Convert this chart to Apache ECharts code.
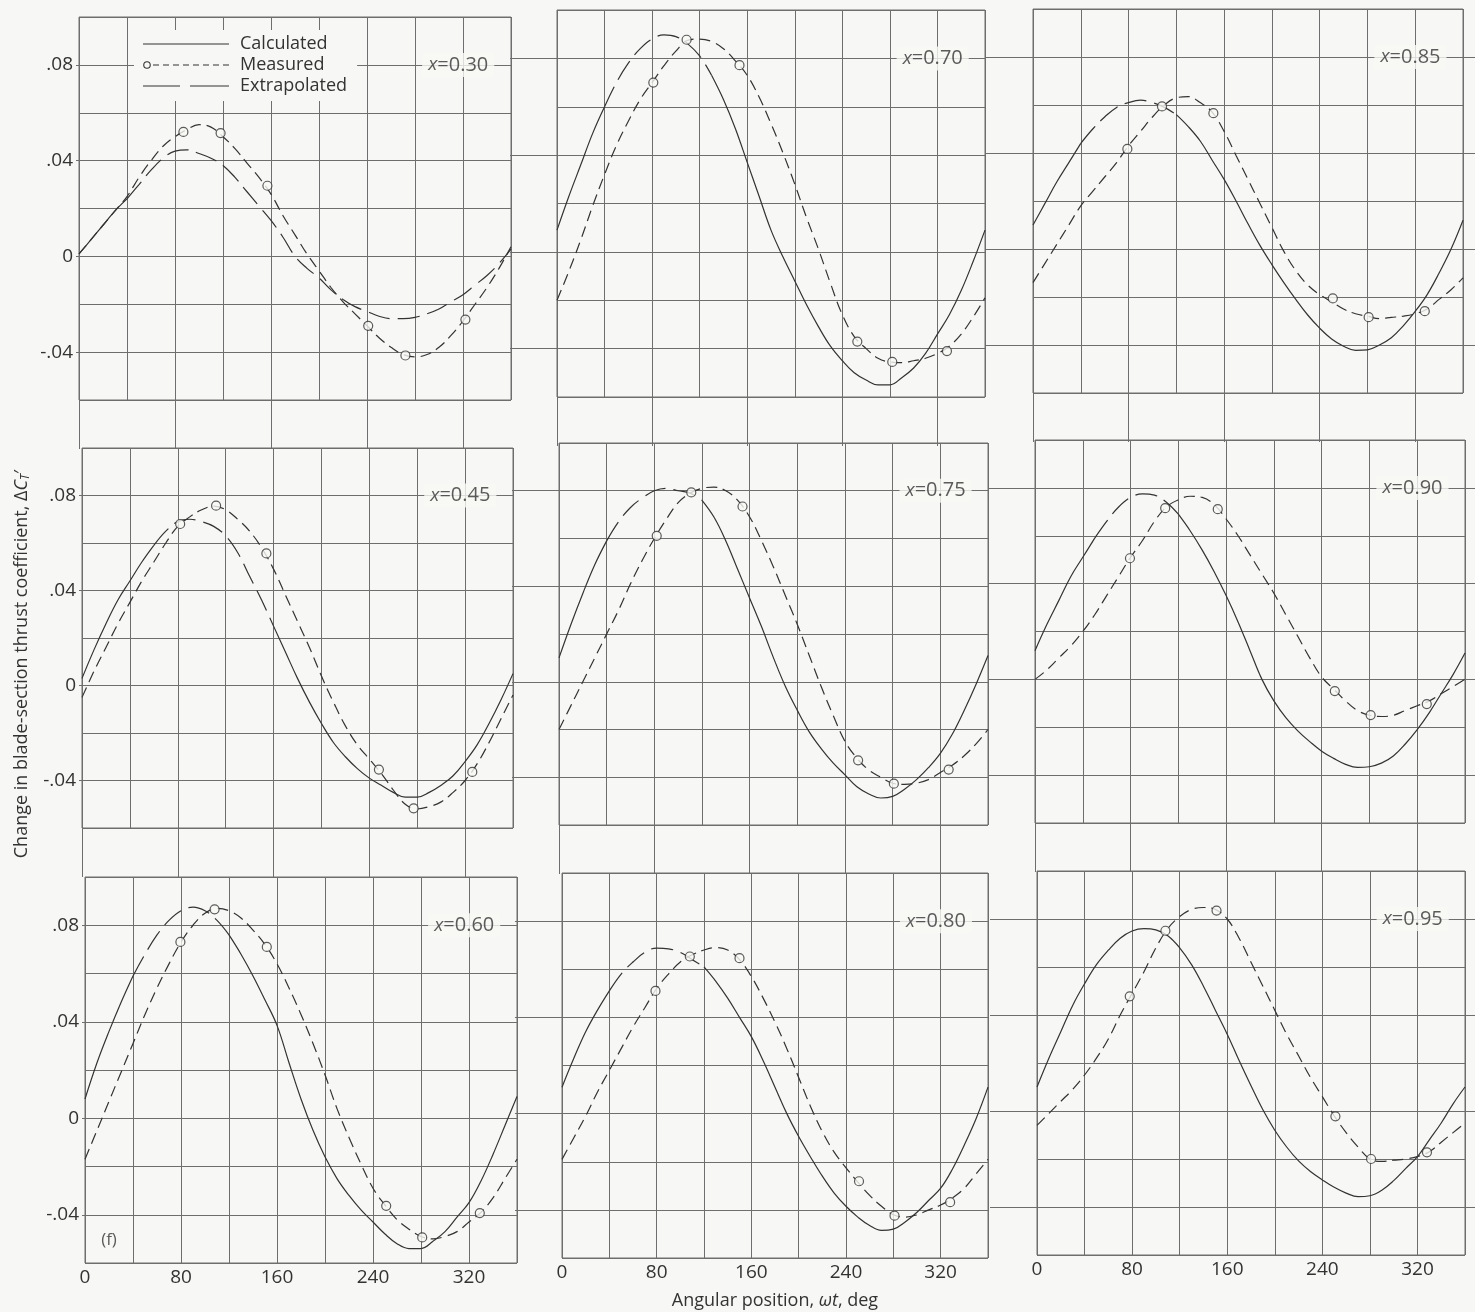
<!DOCTYPE html>
<html><head><meta charset="utf-8">
<script src="https://cdn.jsdelivr.net/npm/echarts@6/dist/echarts.min.js"></script>
<style>html,body{margin:0;padding:0;background:#f7f7f5;}#c{width:1475px;height:1312px;}</style>
</head><body><div id="c"></div>
<script>
// ---------- data ----------
const angles = [0,10,20,30,40,50,60,70,80,90,100,110,120,130,140,150,160,170,180,190,200,210,220,230,240,250,260,270,280,290,300,310,320,330,340,350,360];
const xTickLabels = [0,80,160,240,320];
const yTickLabels = [-0.04,0,0.04,0.08];

const calc030 = [0.001,0.007,0.013,0.019,0.024,0.030,0.036,0.041,0.044,0.0445,0.043,0.041,0.038,0.033,0.027,0.021,0.015,0.008,0.000,-0.005,-0.009,-0.014,-0.018,-0.021,-0.023,-0.025,-0.026,-0.026,-0.0255,-0.024,-0.022,-0.019,-0.016,-0.012,-0.008,-0.003,0.003];
const meas030 = [0.001,0.007,0.013,0.019,0.025,0.033,0.040,0.046,0.050,0.053,0.055,0.054,0.050,0.045,0.039,0.033,0.026,0.017,0.009,0.001,-0.006,-0.013,-0.019,-0.024,-0.029,-0.034,-0.038,-0.041,-0.042,-0.041,-0.038,-0.033,-0.027,-0.020,-0.013,-0.005,0.004];
const ptsAz030 = [87,118,157,241,272,322];
const ptsVal030 = [0.052,0.0515,0.0295,-0.029,-0.0414,-0.0264];
const extrap030 = [40,360];

const calc045 = [0.003,0.015,0.026,0.036,0.044,0.052,0.059,0.065,0.069,0.070,0.069,0.067,0.063,0.056,0.046,0.036,0.025,0.014,0.003,-0.007,-0.016,-0.024,-0.030,-0.035,-0.039,-0.042,-0.045,-0.047,-0.047,-0.045,-0.042,-0.038,-0.032,-0.025,-0.016,-0.006,0.005];
const meas045 = [-0.005,0.006,0.016,0.026,0.035,0.044,0.052,0.060,0.067,0.071,0.074,0.0755,0.074,0.070,0.065,0.058,0.049,0.038,0.027,0.016,0.004,-0.007,-0.017,-0.025,-0.031,-0.037,-0.044,-0.050,-0.052,-0.051,-0.049,-0.045,-0.040,-0.033,-0.024,-0.014,-0.004];
const ptsAz045 = [82,112,154,248,277,326];
const ptsVal045 = [0.068,0.0757,0.0556,-0.0354,-0.0517,-0.0364];
const extrap045 = [60,160];

const calc060 = [0.008,0.023,0.036,0.048,0.059,0.068,0.076,0.082,0.086,0.0875,0.086,0.082,0.076,0.068,0.059,0.049,0.0385,0.023,0.008,-0.005,-0.016,-0.025,-0.032,-0.038,-0.043,-0.048,-0.052,-0.054,-0.054,-0.051,-0.047,-0.041,-0.035,-0.026,-0.015,-0.003,0.009];
const meas060 = [-0.017,-0.005,0.007,0.019,0.031,0.043,0.054,0.064,0.073,0.080,0.085,0.087,0.086,0.083,0.078,0.072,0.064,0.054,0.043,0.031,0.018,0.004,-0.008,-0.019,-0.029,-0.036,-0.042,-0.046,-0.049,-0.050,-0.049,-0.047,-0.043,-0.039,-0.033,-0.025,-0.017];
const ptsAz060 = [79.5,108,151.5,251,281,329];
const ptsVal060 = [0.0731,0.0866,0.071,-0.0363,-0.0494,-0.0393];
const extrap060 = [40,120];

const calc070 = [0.009,0.023,0.036,0.049,0.060,0.070,0.078,0.084,0.088,0.0897,0.089,0.086,0.081,0.073,0.063,0.051,0.037,0.023,0.009,-0.002,-0.012,-0.022,-0.031,-0.039,-0.045,-0.050,-0.053,-0.055,-0.055,-0.052,-0.048,-0.042,-0.034,-0.026,-0.016,-0.004,0.009];
const meas070 = [-0.020,-0.008,0.005,0.019,0.032,0.044,0.054,0.063,0.070,0.077,0.083,0.0875,0.088,0.087,0.084,0.079,0.073,0.064,0.053,0.041,0.028,0.014,0.001,-0.013,-0.026,-0.035,-0.040,-0.044,-0.0455,-0.0458,-0.045,-0.044,-0.042,-0.039,-0.034,-0.027,-0.019];
const ptsAz070 = [81,109,153.5,252.6,282,328];
const ptsVal070 = [0.070,0.0877,0.0772,-0.0371,-0.0455,-0.041];
const extrap070 = [40,130];

const calc075 = [0.010,0.024,0.037,0.049,0.059,0.067,0.073,0.077,0.080,0.081,0.080,0.079,0.076,0.069,0.059,0.047,0.035,0.023,0.010,-0.002,-0.012,-0.021,-0.028,-0.034,-0.039,-0.044,-0.047,-0.0487,-0.048,-0.045,-0.041,-0.036,-0.030,-0.022,-0.012,-0.001,0.011];
const meas075 = [-0.020,-0.010,0.000,0.010,0.020,0.030,0.041,0.051,0.060,0.068,0.075,0.079,0.081,0.0815,0.080,0.076,0.069,0.059,0.048,0.036,0.024,0.011,-0.002,-0.014,-0.025,-0.032,-0.037,-0.040,-0.0425,-0.043,-0.0425,-0.041,-0.038,-0.035,-0.031,-0.026,-0.020];
const ptsAz075 = [82,111,154,251,281,327];
const ptsVal075 = [0.0611,0.0793,0.0734,-0.0329,-0.0427,-0.0368];
const extrap075 = [40,120];

const calc080 = [0.011,0.023,0.034,0.043,0.051,0.058,0.063,0.067,0.0688,0.0685,0.067,0.064,0.061,0.055,0.048,0.040,0.032,0.022,0.011,0.000,-0.0095,-0.018,-0.026,-0.033,-0.0385,-0.043,-0.0465,-0.0485,-0.048,-0.045,-0.041,-0.036,-0.031,-0.023,-0.013,-0.002,0.011];
const meas080 = [-0.019,-0.010,-0.001,0.009,0.018,0.027,0.036,0.044,0.052,0.058,0.063,0.066,0.068,0.069,0.068,0.064,0.057,0.048,0.038,0.027,0.015,0.003,-0.0075,-0.016,-0.0225,-0.0285,-0.034,-0.0385,-0.042,-0.043,-0.042,-0.040,-0.038,-0.035,-0.031,-0.025,-0.019];
const ptsAz080 = [79,108,150,251,281,328];
const ptsVal080 = [0.051,0.0653,0.0646,-0.0281,-0.0424,-0.0368];
const extrap080 = [40,120];

const calc085 = [0.010,0.019,0.028,0.036,0.044,0.050,0.055,0.059,0.061,0.062,0.061,0.059,0.056,0.051,0.045,0.037,0.029,0.020,0.0105,0.0015,-0.0065,-0.014,-0.021,-0.0275,-0.033,-0.0375,-0.0405,-0.0422,-0.042,-0.040,-0.037,-0.032,-0.026,-0.019,-0.010,0.000,0.012];
const meas085 = [-0.014,-0.006,0.002,0.010,0.018,0.024,0.030,0.036,0.043,0.049,0.055,0.060,0.063,0.0635,0.061,0.057,0.049,0.039,0.029,0.019,0.009,-0.001,-0.009,-0.015,-0.019,-0.022,-0.025,-0.027,-0.028,-0.029,-0.0285,-0.028,-0.027,-0.025,-0.021,-0.017,-0.012];
const ptsAz085 = [79,108,151,251,281,328];
const ptsVal085 = [0.0417,0.0594,0.0566,-0.0206,-0.0284,-0.0259];
const extrap085 = [40,120];

const calc090 = [0.012,0.023,0.033,0.043,0.051,0.059,0.066,0.072,0.076,0.0775,0.077,0.074,0.069,0.062,0.054,0.045,0.035,0.024,0.012,0.000,-0.009,-0.016,-0.0215,-0.026,-0.030,-0.033,-0.0355,-0.0368,-0.0365,-0.035,-0.032,-0.027,-0.021,-0.014,-0.006,0.002,0.011];
const meas090 = [0.000,0.004,0.009,0.014,0.020,0.027,0.035,0.043,0.051,0.058,0.066,0.072,0.075,0.0765,0.076,0.073,0.067,0.060,0.052,0.044,0.036,0.027,0.018,0.009,0.001,-0.004,-0.009,-0.013,-0.015,-0.0155,-0.015,-0.013,-0.011,-0.009,-0.006,-0.003,0.000];
const ptsAz090 = [79.5,109,153,251,281,328];
const ptsVal090 = [0.0506,0.0715,0.0711,-0.0049,-0.0149,-0.0103];
const extrap090 = [50,120];

const calc095 = [0.010,0.022,0.033,0.044,0.053,0.061,0.067,0.072,0.075,0.076,0.0755,0.073,0.068,0.061,0.052,0.042,0.032,0.021,0.0105,0.0005,-0.008,-0.015,-0.0208,-0.0252,-0.0287,-0.0318,-0.0342,-0.0357,-0.0353,-0.033,-0.029,-0.024,-0.019,-0.012,-0.005,0.003,0.010];
const meas095 = [-0.006,-0.001,0.004,0.009,0.015,0.022,0.030,0.040,0.049,0.058,0.068,0.076,0.081,0.084,0.0848,0.084,0.080,0.072,0.062,0.052,0.042,0.032,0.023,0.014,0.006,-0.002,-0.009,-0.015,-0.020,-0.021,-0.0205,-0.020,-0.019,-0.017,-0.013,-0.009,-0.005];
const ptsAz095 = [78,108,151,251,281,328];
const ptsVal095 = [0.0478,0.0751,0.0835,-0.0022,-0.020,-0.0172];
const extrap095 = null;

const stationLabels = ['0.30','0.70','0.85','0.45','0.75','0.90','0.60','0.80','0.95'];

// ---------- panels (row-major) ----------
const panels = [
  {calc:calc030, meas:meas030, az:ptsAz030, val:ptsVal030, ext:extrap030},
  {calc:calc070, meas:meas070, az:ptsAz070, val:ptsVal070, ext:extrap070},
  {calc:calc085, meas:meas085, az:ptsAz085, val:ptsVal085, ext:extrap085},
  {calc:calc045, meas:meas045, az:ptsAz045, val:ptsVal045, ext:extrap045},
  {calc:calc075, meas:meas075, az:ptsAz075, val:ptsVal075, ext:extrap075},
  {calc:calc090, meas:meas090, az:ptsAz090, val:ptsVal090, ext:extrap090},
  {calc:calc060, meas:meas060, az:ptsAz060, val:ptsVal060, ext:extrap060},
  {calc:calc080, meas:meas080, az:ptsAz080, val:ptsVal080, ext:extrap080},
  {calc:calc095, meas:meas095, az:ptsAz095, val:ptsVal095, ext:extrap095}
];

// layout (pixels)
const layout = [
  {left:79, top:17, width:432, height:383},
  {left:557, top:10, width:428, height:387},
  {left:1033, top:9, width:430, height:384},
  {left:82, top:448, width:431, height:380},
  {left:559, top:443, width:429, height:382},
  {left:1035, top:440, width:430, height:383},
  {left:85, top:877, width:432, height:386},
  {left:562, top:873, width:426, height:385},
  {left:1037, top:871, width:428, height:384}
];

const PAPER = '#f7f7f5';
const INK = '#333333';
const GRIDC = '#6e6e6e';
const FONT = '"Open Sans", "DejaVu Sans", sans-serif';

function fmtY(v){
  if (Math.abs(v) < 1e-9) return '0';
  const s = Math.abs(v).toFixed(2).replace(/^0/, '');
  return (v < 0 ? '-' : '') + s;
}

const grids = [], xAxes = [], yAxes = [], series = [];
panels.forEach((p, i) => {
  const row = Math.floor(i / 3), col = i % 3;
  const g = layout[i];
  grids.push({left:g.left, top:g.top, width:g.width, height:g.height, show:true,
    borderColor:GRIDC, borderWidth:1, backgroundColor:'transparent', containLabel:false});
  const xi = xAxes.length, yi = yAxes.length;
  // fine grid axes (series are drawn on these)
  xAxes.push({
    gridIndex:i, type:'value', min:0, max:360, interval:40, position:'bottom',
    axisLine:{show:false, onZero:false}, axisTick:{show:false}, axisLabel:{show:false},
    splitLine:{show:true, lineStyle:{color:GRIDC, width:1}}
  });
  yAxes.push({
    gridIndex:i, type:'value', min:-0.06, max:0.10, interval:0.02, position:'left',
    axisLine:{show:false, onZero:false}, axisTick:{show:false}, axisLabel:{show:false},
    splitLine:{show:true, lineStyle:{color:GRIDC, width:1}}
  });
  // labelled ticks and their extensions across the gaps
  xAxes.push({
    gridIndex:i, type:'value', min:0, max:360, interval:40, position:'bottom',
    axisLine:{show:false, onZero:false}, splitLine:{show:false},
    axisTick:{show: row < 2, customValues:xTickLabels, length:49, lineStyle:{color:GRIDC, width:1}},
    axisLabel:{show: row === 2, customValues:xTickLabels, color:INK, fontSize:19, fontFamily:FONT, margin:5},
    name: (i === 7) ? 'Angular position, {i|ωt}, deg' : '',
    nameLocation:'middle', nameGap:34,
    nameTextStyle:{color:INK, fontSize:18, fontFamily:FONT,
      rich:{i:{fontStyle:'italic', fontSize:18, color:INK, fontFamily:FONT}}}
  });
  yAxes.push({
    gridIndex:i, type:'value', min:-0.06, max:0.10, interval:0.02, position:'left',
    axisLine:{show:false, onZero:false}, splitLine:{show:false},
    axisTick:{show:true, customValues:yTickLabels, length: col === 0 ? 3 : 47, lineStyle:{color:GRIDC, width:1}},
    axisLabel:{show: col === 0, customValues:yTickLabels, formatter:fmtY, color:INK, fontSize:19, fontFamily:FONT, margin:6},
    name: (i === 3) ? 'Change in blade-section thrust coefficient, Δ{i|C}{s|T}{n|\u2032}' : '',
    nameLocation:'middle', nameGap:50, nameRotate:90,
    nameTextStyle:{color:INK, fontSize:18, fontFamily:FONT, padding:[0,52,0,0],
      rich:{i:{fontStyle:'italic', fontSize:18, color:INK, fontFamily:FONT},
            s:{fontStyle:'italic', fontSize:12, color:INK, fontFamily:FONT, verticalAlign:'bottom', padding:[8,0,0,0]},
            n:{fontSize:18, color:INK, fontFamily:FONT}}}
  });
  if (col === 2) {
    yAxes.push({
      gridIndex:i, type:'value', min:-0.06, max:0.10, interval:0.02, position:'right',
      axisLine:{show:false, onZero:false}, splitLine:{show:false}, axisLabel:{show:false},
      axisTick:{show:true, customValues:yTickLabels, length:14, lineStyle:{color:GRIDC, width:1}}
    });
  }

  const ext = p.ext;
  const solidData = angles.map((a, k) => {
    const inExt = ext && a > ext[0] && a < ext[1];
    return [a, inExt ? null : p.calc[k]];
  });
  series.push({
    name:'Calculated', type:'line', xAxisIndex:xi, yAxisIndex:yi, data:solidData,
    smooth:0.4, showSymbol:false, symbol:'none', connectNulls:false, color:INK,
    lineStyle:{color:INK, width:1.2, type:'solid'}, silent:true, z:3
  });
  if (ext) {
    const extData = angles.map((a, k) => [a, (a >= ext[0] && a <= ext[1]) ? p.calc[k] : null]);
    series.push({
      name:'Extrapolated', type:'line', xAxisIndex:xi, yAxisIndex:yi, data:extData,
      smooth:0.4, showSymbol:false, symbol:'none', connectNulls:false, color:INK,
      lineStyle:{color:INK, width:1.2, type:[22,8]}, silent:true, z:3
    });
  }
  series.push({
    name:'Measured', type:'line', xAxisIndex:xi, yAxisIndex:yi,
    data: angles.map((a, k) => [a, p.meas[k]]),
    smooth:0.4, showSymbol:false, symbol:'none', color:INK,
    lineStyle:{color:INK, width:1.2, type:[11,6]}, silent:true, z:3
  });
  series.push({
    name:'pts' + i, type:'scatter', xAxisIndex:xi, yAxisIndex:yi,
    data: p.az.map((a, k) => [a, p.val[k]]),
    symbol:'circle', symbolSize:9,
    itemStyle:{color:PAPER, borderColor:INK, borderWidth:1.2},
    silent:true, z:5
  });
  series.push({
    name:'lab' + i, type:'scatter', xAxisIndex:xi, yAxisIndex:yi,
    data:[[316, 0.08]], symbolSize:1, itemStyle:{color:'rgba(0,0,0,0)'},
    label:{show:true, position:'inside',
      formatter:'{i|x}{t|=' + stationLabels[i] + '}',
      backgroundColor:PAPER, padding:[2,6,2,6],
      rich:{i:{fontStyle:'italic', fontSize:19, color:INK, fontFamily:FONT},
            t:{fontSize:20, color:INK, fontFamily:FONT}}},
    silent:true, z:6
  });
  if (i === 6) {
    series.push({
      name:'tagf', type:'scatter', xAxisIndex:xi, yAxisIndex:yi,
      data:[[20, -0.0505]], symbolSize:1, itemStyle:{color:'rgba(0,0,0,0)'},
      label:{show:true, position:'inside', formatter:'(f)', color:INK, fontSize:17, fontFamily:FONT},
      silent:true, z:6
    });
  }
});

const bb = 'M0,0h0.01v0.01h-0.01zM85.99,9.99h0.01v0.01h-0.01z';
let measIcon = 'path://' + bb + 'M0.2,5a3.8,3.8 0 1,0 7.6,0a3.8,3.8 0 1,0 -7.6,0zM1.3,5a2.7,2.7 0 1,1 5.4,0a2.7,2.7 0 1,1 -5.4,0z';
for (let x = 10; x < 84; x += 10) measIcon += 'M' + x + ',4.45h6v1.1h-6z';

const option = {
  backgroundColor: PAPER,
  animation:false,
  grid: grids, xAxis: xAxes, yAxis: yAxes, series: series,
  legend:{
    show:true, orient:'vertical', left:134, top:30, itemWidth:86, itemHeight:10, itemGap:3,
    padding:[5,10,6,9], backgroundColor:PAPER, selectedMode:false,
    textStyle:{color:INK, fontSize:18, fontFamily:FONT, lineHeight:18, padding:[0,0,0,6]},
    data:[
      {name:'Calculated', icon:'path://' + bb + 'M0,4.4h86v1.2h-86z'},
      {name:'Measured', icon:measIcon},
      {name:'Extrapolated', icon:'path://' + bb + 'M0,4.4h37v1.2h-37zM47,4.4h39v1.2h-39z'}
    ]
  }
};
const chart = echarts.init(document.getElementById('c'), null, {renderer:'canvas'});
chart.setOption(option);
</script></body></html>
